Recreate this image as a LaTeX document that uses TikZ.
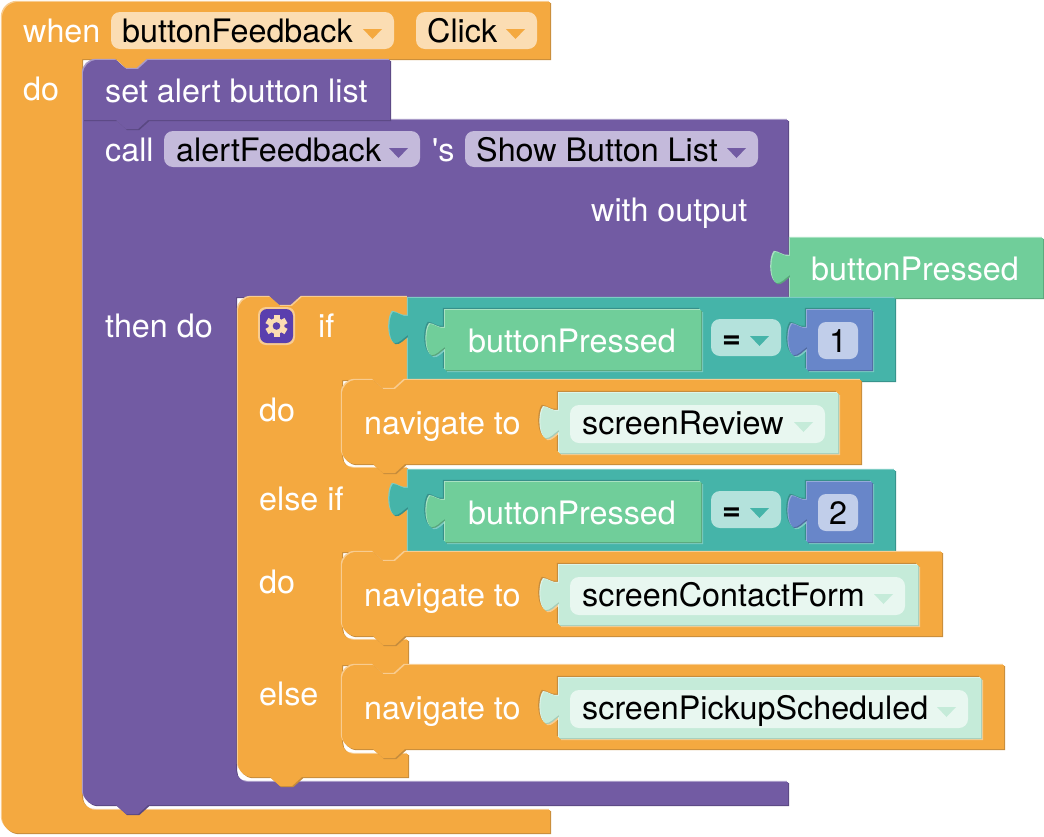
\documentclass[tikz,border=0pt]{standalone}
\usepackage{fontspec}
\setmainfont{TeX Gyre Heros}

\definecolor{ctrl}{HTML}{F4A940}
\definecolor{ctrllight}{HTML}{F8CC90}
\definecolor{ctrldark}{HTML}{C68C3C}
\definecolor{ctrlfield}{HTML}{FBDDB3}
\definecolor{proc}{HTML}{725BA3}
\definecolor{proclight}{HTML}{A99BC8}
\definecolor{procdark}{HTML}{5A4882}
\definecolor{procfield}{HTML}{C4BADB}
\definecolor{logic}{HTML}{45B4A9}
\definecolor{logiclight}{HTML}{7DCCC4}
\definecolor{logicdark}{HTML}{37908A}
\definecolor{logicfield}{HTML}{B4E2DC}
\definecolor{var}{HTML}{70CE9A}
\definecolor{varlight}{HTML}{A8E2C2}
\definecolor{vardark}{HTML}{5AA57B}
\definecolor{num}{HTML}{6886C9}
\definecolor{numlight}{HTML}{95ABDA}
\definecolor{numdark}{HTML}{526BA1}
\definecolor{numfield}{HTML}{C1CEEA}
\definecolor{scr}{HTML}{C5EBD9}
\definecolor{scrlight}{HTML}{DDF4E9}
\definecolor{scrdark}{HTML}{A5CDB9}
\definecolor{scrfield}{HTML}{E8F7F0}
\definecolor{gearbox}{HTML}{5A3FAE}

\newcommand{\blockfont}{\fontsize{32.3}{36}\selectfont}

% path pieces: tab going up a left edge, notch and bump on a horizontal edge
\newcommand{\tabup}[2]{-- (#1,#2+37) .. controls (#1-5,#2+40) and (#1-9,#2+46) .. (#1-14,#2+45)
  .. controls (#1-20,#2+40) and (#1-20,#2+20) .. (#1-15,#2+14)
  .. controls (#1-10,#2+14) and (#1-6,#2+19) .. (#1,#2+18)}
\newcommand{\notchto}[2]{-- (#1,#2) -- (#1+10,#2+9) -- (#1+22,#2+9) -- (#1+32,#2)}
\newcommand{\bumpto}[2]{-- (#1+32,#2) -- (#1+22,#2+9) -- (#1+10,#2+9) -- (#1,#2)}
% corners: corner point and radius
\newcommand{\upright}[3]{-- (#1,#2+#3) .. controls (#1,#2+0.45*#3) and (#1+0.45*#3,#2) .. (#1+#3,#2)}
\newcommand{\downright}[3]{-- (#1,#2-#3) .. controls (#1,#2-0.45*#3) and (#1+0.45*#3,#2) .. (#1+#3,#2)}
\newcommand{\leftup}[3]{-- (#1+#3,#2) .. controls (#1+0.45*#3,#2) and (#1,#2-0.45*#3) .. (#1,#2-#3)}

\newcommand{\block}[2]{
  \fill[#1light,shift={(-1.2,-1.2)}] #2;
  \fill[#1dark,shift={(1.2,1.2)}] #2;
  \fill[#1] #2;}
% a value sitting in a socket of the block #1 round it
\newcommand{\inset}[3]{
  \fill[#1dark,shift={(-2.2,-2.2)}] #3;
  \fill[#1light,shift={(2.2,2.2)}] #3;
  \fill[#2light,shift={(-1,-1)}] #3;
  \fill[#2dark,shift={(1,1)}] #3;
  \fill[#2] #3;}
\newcommand{\field}[6]{
  \fill[#1,rounded corners=9] (#3,#4) rectangle (#5,#6);
  \fill[#2] (#5-31,#4+17) -- (#5-12,#4+17) -- (#5-21.5,#4+27) -- cycle;}

\begin{document}
\begin{tikzpicture}[x=1pt,y=-1pt,
wtext/.style={anchor=base west,inner sep=0pt,text=white,font=\blockfont},
btext/.style={anchor=base west,inner sep=0pt,text=black,font=\blockfont}]
\useasboundingbox (0,0) rectangle (1044,836);

% when block
\block{ctrl}{(2,100) \upright{2}{2}{16} -- (550,2) -- (550,59) \bumpto{116}{59}
  -- (82,59) \downright{82}{810}{14} -- (550,810) -- (550,833)
  \leftup{2}{833}{16} -- cycle}
\field{ctrlfield}{ctrl}{111}{12}{394}{49}
\field{ctrlfield}{ctrl}{416}{12}{537}{49}
\node[wtext] (when) at (23,42) {when};
\node[btext] (buttonFeedback) at (122,42) {buttonFeedback};
\node[btext] (click) at (427,42) {Click};
\node[wtext] (doouter) at (23,100) {do};

% call block with its then do part
\block{proc}{(83,120) \notchto{116}{120} -- (788,120) -- (788,297) \bumpto{270}{297}
  -- (236,297) \downright{236}{782}{12} -- (788,782) -- (788,805)
  \bumpto{116}{805} \leftup{83}{805}{14} -- cycle}
\field{procfield}{proc}{164}{131}{420}{167}
\field{procfield}{proc}{465}{131}{758}{167}
\node[wtext] (call) at (105,161) {call};
\node[btext] (alertFeedback) at (176,161) {alertFeedback};
\node[wtext] (apos) at (432,161) {\textquotesingle s};
\node[btext] (showButtonList) at (476,161) {Show Button List};
\node[wtext] (withoutput) at (591,221) {with output};
\node[wtext] (thendo) at (105,337) {then do};

% set block
\block{proc}{(83,120) \upright{83}{60}{14} \notchto{116}{60} -- (390,60) -- (390,120)
  \bumpto{116}{120} -- cycle}
\node[wtext] (setlist) at (105,102) {set alert button list};

% local name
\block{var}{(790,298) \tabup{790}{238} -- (790,238) -- (1043,238) -- (1043,298) -- cycle}
\node[wtext] (pressedname) at (811,280) {buttonPressed};

% if block
\block{ctrl}{(238,400) \upright{238}{297}{14} \notchto{270}{297} -- (408,297) -- (408,380)
  \bumpto{373}{380} -- (342,380) \downright{342}{468}{12} -- (408,468) -- (408,552)
  \bumpto{373}{552} -- (342,552) \downright{342}{640}{12} -- (408,640) -- (408,665)
  \bumpto{373}{665} -- (342,665) \downright{342}{754}{12} -- (408,754) -- (408,777)
  \bumpto{270}{777} \leftup{238}{777}{14} -- cycle}
\fill[ctrllight,rounded corners=8] (258,307) rectangle (295,345);
\fill[gearbox,rounded corners=7] (260,309) rectangle (293,343);
\foreach \a in {0,60,120}
  \fill[ctrlfield,rotate around={\a:(276.5,326)}] (273.5,315) rectangle (279.5,337);
\fill[ctrlfield] (276.5,326) circle (8);
\fill[gearbox] (276.5,326) circle (3.8);
\node[wtext] (iflabel) at (318,337) {if};
\node[wtext] (dofirst) at (259,421) {do};
\node[wtext] (elseif) at (259,510) {else if};
\node[wtext] (dosecond) at (259,593) {do};
\node[wtext] (elselabel) at (259,705) {else};

% the two tests
\foreach \ty/\numtext/\tname in {298/1/one,470/2/two} {
  \block{logic}{(408,\ty+83) \tabup{408}{\ty} -- (408,\ty) -- (895,\ty) -- (895,\ty+83) -- cycle}
  \inset{logic}{var}{(445,\ty+72) \tabup{445}{\ty+12} -- (445,\ty+12) -- (701,\ty+12) -- (701,\ty+72) -- cycle}
  \field{logicfield}{logic}{711}{\ty+21}{781}{\ty+58}
  \inset{logic}{num}{(807,\ty+72) \tabup{807}{\ty+12} -- (807,\ty+12) -- (872,\ty+12) -- (872,\ty+72) -- cycle}
  \fill[numfield,rounded corners=8] (818,\ty+24) rectangle (858,\ty+61);
  \node[wtext] (pressed\tname) at (468,\ty+54) {buttonPressed};
  \node[btext,font=\blockfont\bfseries] (equals\tname) at (722,\ty+50) {=};
  \node[btext,anchor=base] (number\tname) at (838,\ty+54) {\numtext};
}

% navigate blocks
\foreach \ny/\nright/\sright/\stext/\sname in {380/861/838/screenReview/review,552/942/918/screenContactForm/contact,665/1004/981/screenPickupScheduled/pickup} {
  \block{ctrl}{(342,\ny+40) \upright{342}{\ny}{14} \notchto{373}{\ny} -- (\nright,\ny) -- (\nright,\ny+84)
    \bumpto{373}{\ny+84} \leftup{342}{\ny+84}{14} -- cycle}
  \inset{ctrl}{scr}{(559,\ny+73) \tabup{559}{\ny+13} -- (559,\ny+13) -- (\sright,\ny+13) -- (\sright,\ny+73) -- cycle}
  \field{scrfield}{scr}{570}{\ny+25}{\sright-13}{\ny+63}
  \node[wtext] (navigate\sname) at (364,\ny+54) {navigate to};
  \node[btext] (\sname) at (582,\ny+54) {\stext};
}
\end{tikzpicture}
\end{document}
